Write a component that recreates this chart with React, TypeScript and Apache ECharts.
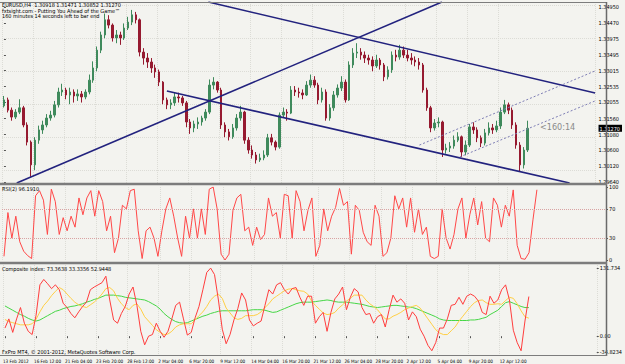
import React, { useEffect, useRef } from "react";
import * as echarts from "echarts";

// ---------- data ----------
const dateLabels = [
  "13 Feb 2012", "16 Feb 12:00", "21 Feb 04:00", "23 Feb 20:00", "28 Feb 12:00",
  "2 Mar 04:00", "6 Mar 20:00", "9 Mar 12:00", "14 Mar 04:00", "16 Mar 20:00",
  "21 Mar 12:00", "26 Mar 04:00", "28 Mar 20:00", "2 Apr 12:00", "5 Apr 04:00",
  "9 Apr 20:00", "12 Apr 12:00",
];
const BARS_PER_LABEL = 8;
const TOTAL_SLOTS = 153; // bars + empty chart shift on the right

const firstOpen = 1.3195;
const close = [
  1.3213, 1.3182, 1.3161, 1.3176, 1.3189, 1.3137, 1.3085, 1.3016, 1.3091, 1.3122,
  1.3137, 1.3158, 1.3167, 1.3198, 1.3237, 1.3243, 1.3228, 1.3237, 1.3225, 1.3231,
  1.3222, 1.3237, 1.3273, 1.3310, 1.3364, 1.3410, 1.3456, 1.3440, 1.3401, 1.3410,
  1.3401, 1.3431, 1.3449, 1.3471, 1.3456, 1.3358, 1.3340, 1.3328, 1.3310, 1.3298,
  1.3267, 1.3213, 1.3198, 1.3204, 1.3222, 1.3219, 1.3204, 1.3146, 1.3128, 1.3140,
  1.3146, 1.3158, 1.3176, 1.3258, 1.3267, 1.3243, 1.3137, 1.3116, 1.3101, 1.3128,
  1.3158, 1.3176, 1.3091, 1.3061, 1.3046, 1.3031, 1.3037, 1.3046, 1.3098, 1.3085,
  1.3070, 1.3167, 1.3176, 1.3173, 1.3243, 1.3237, 1.3234, 1.3228, 1.3258, 1.3273,
  1.3258, 1.3213, 1.3237, 1.3158, 1.3189, 1.3228, 1.3249, 1.3267, 1.3213, 1.3319,
  1.3355, 1.3358, 1.3349, 1.3340, 1.3334, 1.3316, 1.3334, 1.3319, 1.3283, 1.3304,
  1.3349, 1.3343, 1.3364, 1.3349, 1.3340, 1.3334, 1.3328, 1.3319, 1.3243, 1.3189,
  1.3128, 1.3143, 1.3146, 1.3061, 1.3067, 1.3073, 1.3091, 1.3101, 1.3055, 1.3076,
  1.3131, 1.3122, 1.3098, 1.3082, 1.3113, 1.3128, 1.3122, 1.3134, 1.3176, 1.3198,
  1.3182, 1.3137, 1.3076, 1.3016, 1.3061, 1.3127,
];
const high = [
  1.3225, 1.3220, 1.3190, 1.3185, 1.3215, 1.3195, 1.3145, 1.3090, 1.3100, 1.3135,
  1.3150, 1.3170, 1.3180, 1.3210, 1.3250, 1.3262, 1.3250, 1.3250, 1.3245, 1.3245,
  1.3240, 1.3245, 1.3290, 1.3330, 1.3375, 1.3420, 1.3475, 1.3470, 1.3445, 1.3425,
  1.3420, 1.3445, 1.3465, 1.3486, 1.3480, 1.3460, 1.3370, 1.3355, 1.3340, 1.3320,
  1.3305, 1.3270, 1.3220, 1.3215, 1.3235, 1.3235, 1.3225, 1.3210, 1.3155, 1.3150,
  1.3160, 1.3165, 1.3185, 1.3275, 1.3282, 1.3270, 1.3250, 1.3145, 1.3125, 1.3140,
  1.3170, 1.3195, 1.3180, 1.3100, 1.3075, 1.3055, 1.3050, 1.3060, 1.3110, 1.3110,
  1.3090, 1.3175, 1.3190, 1.3185, 1.3255, 1.3255, 1.3250, 1.3245, 1.3270, 1.3290,
  1.3285, 1.3265, 1.3250, 1.3245, 1.3200, 1.3240, 1.3260, 1.3285, 1.3275, 1.3330,
  1.3370, 1.3385, 1.3370, 1.3360, 1.3350, 1.3345, 1.3350, 1.3340, 1.3325, 1.3315,
  1.3360, 1.3365, 1.3380, 1.3375, 1.3365, 1.3355, 1.3345, 1.3340, 1.3325, 1.3250,
  1.3195, 1.3155, 1.3160, 1.3150, 1.3080, 1.3085, 1.3105, 1.3115, 1.3105, 1.3090,
  1.3140, 1.3145, 1.3130, 1.3105, 1.3125, 1.3145, 1.3140, 1.3150, 1.3190, 1.3213,
  1.3205, 1.3190, 1.3145, 1.3085, 1.3070, 1.3150,
];
const low = [
  1.3190, 1.3175, 1.3150, 1.3155, 1.3170, 1.3130, 1.3075, 1.2980, 1.3000, 1.3080,
  1.3110, 1.3130, 1.3150, 1.3160, 1.3190, 1.3225, 1.3215, 1.3200, 1.3205, 1.3210,
  1.3205, 1.3215, 1.3230, 1.3265, 1.3300, 1.3355, 1.3400, 1.3430, 1.3390, 1.3385,
  1.3380, 1.3395, 1.3425, 1.3440, 1.3445, 1.3345, 1.3320, 1.3310, 1.3295, 1.3280,
  1.3255, 1.3200, 1.3185, 1.3185, 1.3195, 1.3205, 1.3195, 1.3130, 1.3110, 1.3115,
  1.3125, 1.3135, 1.3150, 1.3170, 1.3245, 1.3235, 1.3125, 1.3100, 1.3090, 1.3095,
  1.3120, 1.3150, 1.3080, 1.3050, 1.3035, 1.3020, 1.3025, 1.3030, 1.3040, 1.3075,
  1.3060, 1.3065, 1.3160, 1.3150, 1.3170, 1.3225, 1.3220, 1.3215, 1.3225, 1.3250,
  1.3250, 1.3200, 1.3205, 1.3150, 1.3150, 1.3180, 1.3220, 1.3240, 1.3205, 1.3210,
  1.3310, 1.3340, 1.3335, 1.3325, 1.3320, 1.3300, 1.3310, 1.3305, 1.3270, 1.3275,
  1.3295, 1.3330, 1.3335, 1.3340, 1.3330, 1.3320, 1.3315, 1.3305, 1.3235, 1.3180,
  1.3115, 1.3120, 1.3130, 1.3040, 1.3050, 1.3055, 1.3065, 1.3085, 1.3040, 1.3045,
  1.3070, 1.3110, 1.3085, 1.3070, 1.3075, 1.3105, 1.3110, 1.3115, 1.3125, 1.3170,
  1.3170, 1.3125, 1.3065, 1.2995, 1.3005, 1.3055,
];

const rsi = [
  5, 65, 30, 60, 25, 12, 6, 2, 88, 95,
  82, 35, 97, 80, 35, 58, 40, 60, 45, 85,
  62, 85, 95, 60, 95, 80, 40, 60, 10, 30,
  75, 70, 95, 97, 40, 2, 40, 45, 30, 5,
  40, 70, 85, 60, 30, 5, 60, 30, 70, 30,
  70, 35, 97, 100, 70, 8, 0, 8, 68, 85,
  90, 40, 45, 20, 45, 28, 35, 85, 60, 65,
  30, 90, 88, 30, 95, 80, 40, 68, 85, 5,
  20, 70, 40, 60, 72, 98, 75, 80, 8, 75,
  68, 38, 25, 20, 75, 60, 5, 10, 30, 88,
  70, 85, 45, 85, 38, 70, 35, 45, 5, 2,
  5, 70, 30, 15, 35, 70, 85, 30, 62, 85,
  48, 80, 30, 25, 85, 75, 45, 75, 60, 96,
  20, 2, 1, 10, 55, 96.191,
];
const compRed = [
  15, 32, 7, 32, 53, 24, 9, 3, 38, 95,
  105, 97, 88, 95, 86, 61, 53, 42, 34, 45,
  55, 63, 86, 91, 95, 99, 111, 67, 30, 24,
  42, 55, 78, 91, 57, 9, -16, 0, 3, 24,
  9, -2, 9, 32, 57, 63, 32, 2, 7, 34,
  55, 86, 118, 126, 114, 67, 13, -14, 3, 30,
  51, 80, 67, 30, 19, 24, 28, 57, 86, 78,
  95, 99, 86, 78, 88, 90, 72, 57, 74, 74,
  24, 36, 44, 9, 44, 69, 78, 91, 49, 72,
  88, 82, 53, 40, 42, 24, 36, 40, 17, 49,
  76, 63, 69, 61, 30, 45, 36, 13, 0, -17,
  -27, -12, 15, 15, 32, 57, 59, 72, 59, 74,
  78, 74, 65, 44, 40, 74, 61, 67, 86, 95,
  67, 11, -12, -27, 28, 73.3638,
];
const compYellow = [
  31, 27, 25, 23, 21, 21, 21, 23, 31, 45,
  57, 65, 75, 83, 90, 86, 78, 70, 63, 58,
  55, 53, 58, 63, 70, 78, 88, 90, 84, 70,
  60, 53, 49, 57, 60, 50, 36, 28, 20, 12,
  7, 3, 4, 9, 17, 21, 23, 23, 23, 30,
  38, 45, 55, 67, 74, 78, 70, 52, 43, 34,
  31, 33, 38, 38, 38, 40, 45, 53, 60, 69,
  74, 79, 84, 87, 88, 86, 84, 83, 78, 65,
  57, 50, 43, 40, 41, 44, 52, 58, 65, 70,
  76, 76, 76, 67, 60, 55, 49, 40, 32, 32,
  37, 40, 44, 49, 52, 55, 57, 52, 42, 32,
  22, 12, 6, 3, 3, 10, 17, 28, 37, 46,
  55, 62, 66, 67, 62, 59, 59, 60, 59, 66,
  72, 70, 60, 47, 36, 33.3356,
];
const compGreen = [
  56, 52, 48, 44, 40, 37, 33, 30, 28, 30,
  34, 38, 42, 46, 48, 51, 53, 55, 56, 58,
  60, 63, 65, 68, 70, 73, 76, 76, 76, 75,
  74, 72, 71, 70, 69, 68, 67, 64, 60, 56,
  50, 42, 36, 31, 27, 25, 24, 25, 28, 31,
  34, 37, 39, 42, 44, 46, 47, 47, 47, 47,
  47, 47, 47, 48, 49, 49, 49, 48, 46, 44,
  45, 48, 51, 54, 57, 60, 62, 63, 63, 63,
  64, 65, 66, 67, 66, 64, 63, 63, 63, 62,
  61, 60, 59, 57, 55, 54, 53, 54, 55, 56,
  57, 57, 56, 55, 54, 53, 51, 48, 45, 42,
  39, 36, 32, 30, 29, 29, 29, 29, 29, 29,
  30, 30, 31, 33, 35, 40, 44, 48, 55, 62,
  64, 61, 58, 55, 53, 52.9448,
];

const priceTicks = [
  1.2964, 1.3012, 1.306, 1.3108, 1.3156, 1.32055, 1.32535, 1.33015, 1.33495,
  1.33975, 1.3447, 1.3495,
];
const currentPrice = 1.3127;
const priceMin = 1.2961;
const priceMax = 1.351;
const rsiTicks = [0, 30, 70, 100];
const rsiLevels = [30, 70];
const compMax = 131.734;
const compMin = -34.8234;
const compZero = 0;

// trend lines: [bar index, price]
const trendRising = [[3.3, 1.2961], [112.9, 1.351]];
const trendUpperFalling = [[52.7, 1.351], [152.4, 1.3234]];
const trendLowerFalling = [[42.0, 1.324], [145.8, 1.2961]];
const channelUpper = [[107.1, 1.3076], [152.4, 1.3301]];
const channelLower = [[117.5, 1.304], [152.4, 1.321]];

// ---------- styling ----------
const BG = "#f3f3ef";
const FONT = '"Liberation Sans Narrow", "DejaVu Sans Condensed", "Liberation Sans", sans-serif';
const FS = 5.5;
const FS_X = 4.6;
const FRAME = "#7c7c7c";
const NAVY = "#22227e";

const GRID_LEFT = 2;
const GRID_W = 604;
const MAIN_TOP = 2, MAIN_H = 181;
const RSI_TOP = 187, RSI_H = 73;
const COMP_TOP = 265, COMP_H = 90;

function buildOption() {
  const N = TOTAL_SLOTS;
  const cats = Array.from({ length: N }, (_, i) => String(i));
  const open = close.map((c, i) => (i === 0 ? firstOpen : close[i - 1]));
  const candles = close.map((c, i) => [open[i], c, low[i], high[i]]);
  const isLabelIdx = (i: number) => i % BARS_PER_LABEL === 0 && i / BARS_PER_LABEL < dateLabels.length;

  const compPxPerUnit = COMP_H / (compMax - compMin);
  const nudge = 3 / compPxPerUnit;
  const compLabelVals = [compMax - nudge, compZero, compMin + nudge];
  const compLabelText = [compMax.toFixed(3), "0.00", compMin.toFixed(4)];

  const catAxis = (gridIndex: number, showLabels: boolean) => ({
    type: "category",
    gridIndex,
    data: cats,
    boundaryGap: true,
    axisLine: { show: false },
    axisTick: showLabels
      ? { show: true, alignWithLabel: true, interval: (i: number) => isLabelIdx(i), length: 2, lineStyle: { color: "#555" } }
      : { show: false },
    axisLabel: showLabels
      ? {
          show: true,
          interval: (i: number) => isLabelIdx(i),
          formatter: (_v: string, idx: number) => dateLabels[idx / BARS_PER_LABEL] ?? "",
          align: "left",
          fontSize: FS_X,
          fontFamily: FONT,
          color: "#000",
          margin: 4,
          padding: [0, 0, 0, -2],
        }
      : { show: false },
    splitLine: {
      show: true,
      interval: (i: number) => isLabelIdx(i),
      lineStyle: { type: "dotted", color: "#dcdcd6", width: 1 },
    },
  });

  const lineSeries = (data: number[][], color: string, width: number, type: any) => ({
    type: "line",
    xAxisIndex: 3,
    yAxisIndex: 0,
    data,
    symbol: "none",
    silent: true,
    clip: true,
    z: 5,
    lineStyle: { color, width, type },
  });

  const labelStyle = { fontSize: FS, fontFamily: FONT, color: "#000", margin: 3 };

  return {
    animation: false,
    backgroundColor: BG,
    grid: [
      { left: GRID_LEFT, width: GRID_W, top: MAIN_TOP, height: MAIN_H },
      { left: GRID_LEFT, width: GRID_W, top: RSI_TOP, height: RSI_H },
      { left: GRID_LEFT, width: GRID_W, top: COMP_TOP, height: COMP_H },
    ],
    xAxis: [
      catAxis(0, false),
      catAxis(1, false),
      catAxis(2, true),
      { type: "value", gridIndex: 0, min: -0.5, max: N - 0.5, show: false },
    ],
    yAxis: [
      {
        type: "value",
        gridIndex: 0,
        position: "right",
        min: priceMin,
        max: priceMax,
        axisLine: { show: false },
        splitLine: { show: false },
        axisTick: { show: true, customValues: priceTicks, length: 2, lineStyle: { color: "#555" } },
        axisLabel: {
          ...labelStyle,
          customValues: [...priceTicks, currentPrice],
          formatter: (v: number) =>
            Math.abs(v - currentPrice) < 1e-7 ? `{cur|${v.toFixed(5)}}` : v.toFixed(5),
          rich: {
            cur: { backgroundColor: "#000", color: "#fff", fontSize: FS, fontFamily: FONT, padding: [1, 2, 0, 1] },
          },
        },
      },
      {
        type: "value",
        gridIndex: 1,
        position: "right",
        min: 0,
        max: 100,
        axisLine: { show: false },
        splitLine: { show: false },
        axisTick: { show: true, customValues: rsiTicks, length: 2, lineStyle: { color: "#555" } },
        axisLabel: { ...labelStyle, customValues: rsiTicks, formatter: (v: number) => String(Math.round(v)) },
      },
      {
        type: "value",
        gridIndex: 2,
        position: "right",
        min: compMin,
        max: compMax,
        axisLine: { show: false },
        splitLine: { show: false },
        axisTick: { show: true, customValues: compLabelVals, length: 2, lineStyle: { color: "#555" } },
        axisLabel: {
          ...labelStyle,
          customValues: compLabelVals,
          formatter: (v: number) => {
            const k = compLabelVals.findIndex((c) => Math.abs(c - v) < 1e-6);
            return k >= 0 ? compLabelText[k] : "";
          },
        },
      },
    ],
    series: [
      {
        type: "candlestick",
        xAxisIndex: 0,
        yAxisIndex: 0,
        data: candles,
        barWidth: 2,
        itemStyle: {
          color: "#3f8a5c",
          color0: "#961a30",
          borderColor: "#3f8a5c",
          borderColor0: "#961a30",
          borderWidth: 1,
        },
        markLine: {
          silent: true,
          symbol: "none",
          label: { show: false },
          lineStyle: { type: "dotted", color: "#dcdcd6", width: 1 },
          data: priceTicks.map((p) => ({ yAxis: p })),
          z: 0,
        },
      },
      lineSeries(trendRising, NAVY, 1.6, "solid"),
      lineSeries(trendUpperFalling, NAVY, 1.6, "solid"),
      lineSeries(trendLowerFalling, NAVY, 1.6, "solid"),
      lineSeries(channelUpper, "#7d7db4", 1, [2, 2]),
      lineSeries(channelLower, "#7d7db4", 1, [2, 2]),
      {
        type: "line",
        xAxisIndex: 1,
        yAxisIndex: 1,
        data: rsi,
        symbol: "none",
        lineStyle: { color: "#ff4747", width: 1 },
        markLine: {
          silent: true,
          symbol: "none",
          label: { show: false },
          lineStyle: { type: "dotted", color: "#d9a3a3", width: 1 },
          data: rsiLevels.map((v) => ({ yAxis: v })),
        },
      },
      {
        type: "line",
        xAxisIndex: 2,
        yAxisIndex: 2,
        data: compGreen,
        symbol: "none",
        lineStyle: { color: "#46d646", width: 1 },
      },
      {
        type: "line",
        xAxisIndex: 2,
        yAxisIndex: 2,
        data: compYellow,
        symbol: "none",
        lineStyle: { color: "#ffcf45", width: 1 },
      },
      {
        type: "line",
        xAxisIndex: 2,
        yAxisIndex: 2,
        data: compRed,
        symbol: "none",
        lineStyle: { color: "#ff3d3d", width: 1 },
      },
    ],
    graphic: [
      // frame
      { type: "line", z: 20, shape: { x1: 0, y1: 2.5, x2: 606.5, y2: 2.5 }, style: { stroke: FRAME, lineWidth: 1 } },
      { type: "line", z: 20, shape: { x1: 606.5, y1: 2, x2: 606.5, y2: 356 }, style: { stroke: "#6a6a6a", lineWidth: 1.5 } },
      { type: "line", z: 20, shape: { x1: 0, y1: 184, x2: 607, y2: 184 }, style: { stroke: FRAME, lineWidth: 2.5 } },
      { type: "line", z: 20, shape: { x1: 0, y1: 263, x2: 607, y2: 263 }, style: { stroke: FRAME, lineWidth: 2.5 } },
      { type: "line", z: 20, shape: { x1: 0, y1: 355.5, x2: 607, y2: 355.5 }, style: { stroke: FRAME, lineWidth: 1 } },
      // texts
      { type: "text", z: 21, x: 2, y: 5, style: { text: "EURUSD,H4  1.30918 1.31471 1.30852 1.31270", fill: "#000", fontSize: FS, fontFamily: FONT, verticalAlign: "middle" } },
      { type: "text", z: 21, x: 2, y: 10.5, style: { text: "fxtsight.com - Putting You Ahead of the Game\u2122", fill: "#000", fontSize: FS, fontFamily: FONT, verticalAlign: "middle" } },
      { type: "text", z: 21, x: 2, y: 16, style: { text: "160 minutes 14 seconds left to bar end", fill: "#000", fontSize: FS, fontFamily: FONT, verticalAlign: "middle" } },
      { type: "text", z: 21, x: 2, y: 189, style: { text: "RSI(2) 96.1910", fill: "#000", fontSize: FS, fontFamily: FONT, verticalAlign: "middle" } },
      { type: "text", z: 21, x: 2, y: 268.5, style: { text: "Composite index: 73.3638 33.3356 52.9448", fill: "#000", fontSize: FS, fontFamily: FONT, verticalAlign: "middle" } },
      { type: "text", z: 21, x: 2, y: 351.5, style: { text: "FxPro MT4, \u00a9 2001-2012, MetaQuotes Software Corp.", fill: "#000", fontSize: FS, fontFamily: FONT, verticalAlign: "middle" } },
      { type: "text", z: 21, x: 540, y: 127, style: { text: "<160:14", fill: "#8a8a8a", fontSize: 9, fontFamily: FONT, verticalAlign: "middle" } },
    ],
  };
}

export default function App() {
  const ref = useRef<HTMLDivElement>(null);
  useEffect(() => {
    document.body.style.margin = "0";
    document.body.style.background = BG;
    if (!ref.current) return;
    const chart = echarts.init(ref.current, null, { renderer: "svg" });
    chart.setOption(buildOption() as any);
    return () => chart.dispose();
  }, []);
  return <div ref={ref} style={{ width: 625, height: 364, background: BG }} />;
}
